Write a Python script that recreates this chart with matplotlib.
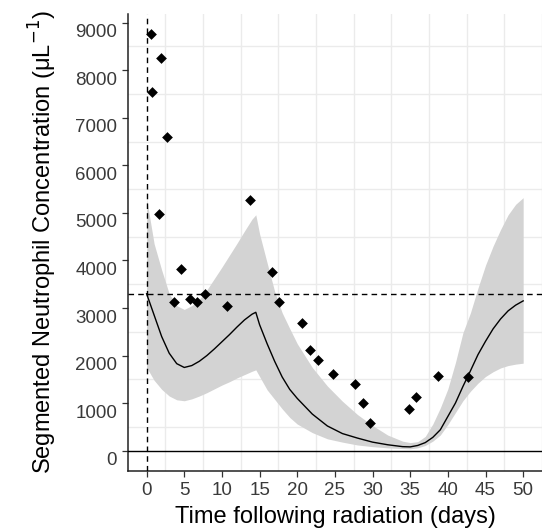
import numpy as np
import matplotlib.pyplot as plt
from matplotlib.transforms import ScaledTranslation

plt.rcParams['font.family'] = ['Liberation Sans', 'DejaVu Sans']

# observed neutrophil counts
obs_days = [0.53, 0.70, 1.62, 1.93, 2.77, 3.65, 4.62, 5.76, 6.74, 7.70, 10.65,
            13.69, 16.66, 17.57, 20.61, 21.74, 22.72, 24.78, 27.65, 28.71, 29.72,
            34.78, 35.71, 38.71, 42.67]
obs_anc = [8760, 7550, 4980, 8260, 6600, 3130, 3830, 3180, 3130, 3300, 3050,
           5280, 3760, 3120, 2690, 2110, 1910, 1610, 1410, 1000, 580,
           880, 1130, 1560, 1540]

# model prediction with band
model_days = [0, 1, 2, 3, 4, 5, 6, 7, 8, 9, 10, 11, 12, 13, 14, 14.5,
              15, 16, 17, 18, 19, 20, 22, 24, 26, 28, 30, 32, 34, 35,
              36, 37, 38, 39, 40, 41, 42, 43, 44, 45, 46, 47, 48, 49, 50]
model_mean = [3300, 2850, 2400, 2050, 1830, 1750, 1790, 1880, 2000, 2140, 2290,
              2440, 2600, 2750, 2870, 2910,
              2650, 2250, 1880, 1550, 1290, 1100, 770, 520, 360, 265, 180, 125,
              85, 80, 110, 170, 280, 440, 720, 1000, 1350, 1680, 2020, 2300,
              2560, 2770, 2940, 3060, 3150]
model_lo = [1750, 1480, 1290, 1150, 1070, 1050, 1090, 1150, 1220, 1300, 1380,
            1450, 1530, 1600, 1670, 1700,
            1560, 1280, 1080, 880, 700, 560, 380, 250, 180, 120, 85, 60,
            45, 40, 60, 110, 200, 330, 550, 800, 1050, 1250, 1420, 1560,
            1660, 1740, 1790, 1820, 1840]
model_hi = [5300, 4350, 3800, 3300, 3050, 2970, 3050, 3180, 3380, 3620, 3860,
            4110, 4360, 4620, 4870, 4960,
            4560, 3950, 3350, 2900, 2570, 2250, 1750, 1360, 1040, 760, 530, 330,
            200, 170, 190, 300, 560, 900, 1300, 1850, 2480, 2900, 3420, 3900,
            4300, 4650, 4960, 5180, 5320]

baseline = 3300
x_ticks = [0, 5, 10, 15, 20, 25, 30, 35, 40, 45, 50]
y_ticks = [0, 1000, 2000, 3000, 4000, 5000, 6000, 7000, 8000, 9000]

fig = plt.figure(figsize=(5.42, 5.32), dpi=100)
ax = fig.add_axes([128.3 / 542, 1 - 471 / 532, (542 - 128.3) / 542, (471 - 14) / 532])

ax.fill_between(model_days, model_lo, model_hi, color='#D3D3D3', lw=0, zorder=2)
ax.plot(model_days, model_mean, color='black', lw=1.0, zorder=3)
ax.scatter(obs_days, obs_anc, marker='D', s=30, color='black', lw=0, zorder=4)

ax.axhline(baseline, color='black', lw=1.0, ls=(0, (4, 3)), zorder=3)
ax.axvline(0, color='black', lw=1.0, ls=(0, (4, 3)), zorder=3)
ax.axhline(0, color='black', lw=1.0, zorder=3)

ax.set_xlim(-2.43, 52.23)
ax.set_ylim(-427, 9182)
ax.set_xticks(x_ticks)
ax.set_yticks(y_ticks)
ax.set_xticks(np.arange(2.5, 55, 5), minor=True)
ax.set_yticks(np.arange(500, 9500, 1000), minor=True)
ax.grid(which='minor', color='#EBEBEB', lw=1.0, zorder=0)
ax.grid(which='major', visible=False)
ax.set_axisbelow(True)

for s in ['top', 'right']:
    ax.spines[s].set_visible(False)
for s in ['left', 'bottom']:
    ax.spines[s].set_color('#222222')
    ax.spines[s].set_linewidth(1.1)

ax.tick_params(which='major', length=4, width=0.9, color='#333333',
               labelsize=13.5, labelcolor='#3a3a3a', pad=4)
ax.tick_params(which='minor', length=0)

# labels in the reference sit a bit below their ticks
shift = ScaledTranslation(0, -0.08, fig.dpi_scale_trans)
for lab in ax.get_yticklabels():
    lab.set_transform(lab.get_transform() + shift)

ax.set_xlabel('Time following radiation (days)', fontsize=17, labelpad=5)
ax.set_ylabel('Segmented Neutrophil Concentration (μL$^{-1}$)', fontsize=17, labelpad=12)

fig.savefig('out.png', dpi=100)
